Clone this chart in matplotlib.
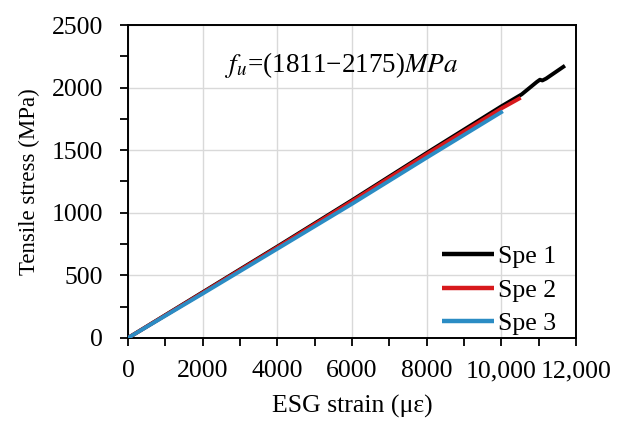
import matplotlib
matplotlib.use("Agg")
import matplotlib.pyplot as plt
from matplotlib.ticker import MultipleLocator, FixedLocator

plt.rcParams["font.family"] = ["Liberation Serif", "DejaVu Serif"]
plt.rcParams["mathtext.fontset"] = "stix"

# Stress-strain curves of the three specimens (strain in με, stress in MPa)
spe1_strain = [0, 2000, 4000, 6000, 8000, 10000, 10545, 10950, 11035, 11100, 11200, 11705]
spe1_stress = [0, 365, 730, 1100, 1478, 1850, 1946, 2045, 2063, 2057, 2072, 2175]

spe2_strain = [0, 2000, 4000, 6000, 8000, 10000, 10520]
spe2_stress = [0, 361, 724, 1092, 1468, 1833, 1919]

spe3_strain = [0, 2000, 4000, 6000, 8000, 10040]
spe3_stress = [0, 354, 712, 1071, 1440, 1811]

series_names = ["Spe 1", "Spe 2", "Spe 3"]
series_colors = ["#000000", "#d7191c", "#2b8cc4"]

x_ticks = [0, 2000, 4000, 6000, 8000, 10000, 12000]
x_tick_labels = ["0", "2000", "4000", "6000", "8000", "10,000", "12,000"]
y_ticks = [0, 500, 1000, 1500, 2000, 2500]

fig = plt.figure(figsize=(6.17, 4.24), dpi=100)
ax = fig.add_axes([0.2075, 0.203, 0.726, 0.738])

ax.grid(True, which="major", color="#d9d9d9", linewidth=1.0, zorder=0)

curves = [(spe1_strain, spe1_stress), (spe2_strain, spe2_stress), (spe3_strain, spe3_stress)]
for (xs, ys), name, col in zip(curves, series_names, series_colors):
    ax.plot(xs, ys, color=col, linewidth=2.8, label=name, solid_capstyle="butt", zorder=3)

ax.set_xlim(0, 12000)
ax.set_ylim(0, 2500)
ax.xaxis.set_major_locator(FixedLocator(x_ticks))
ax.set_xticklabels(x_tick_labels)
ax.xaxis.set_minor_locator(MultipleLocator(1000))
ax.yaxis.set_major_locator(FixedLocator(y_ticks))
ax.yaxis.set_minor_locator(MultipleLocator(250))

ax.tick_params(which="both", direction="out", length=6, width=1.3, color="black",
               labelsize=18.5)
ax.tick_params(axis="x", which="major", pad=10)
ax.tick_params(axis="y", which="major", pad=12)
for side in ["left", "bottom", "top", "right"]:
    ax.spines[side].set_linewidth(1.4)
    ax.spines[side].set_color("black")

ax.set_xlabel("ESG strain (\u03bc\u03b5)", fontsize=18.5, labelpad=9)
ax.set_ylabel("Tensile stress (MPa)", fontsize=16.5, labelpad=8)

ax.text(0.216, 0.872, "$f_u$=(1811\u22122175)$MPa$", transform=ax.transAxes,
        fontsize=19.5, ha="left", va="center")

leg = ax.legend(loc="lower right", bbox_to_anchor=(0.955, 0.01), frameon=False,
                fontsize=18.5, handlelength=2.0, handletextpad=0.15,
                labelspacing=0.4, borderaxespad=0.0, borderpad=0.0)
for line in leg.get_lines():
    line.set_linewidth(3.2)

fig.savefig("out.png", dpi=100)
